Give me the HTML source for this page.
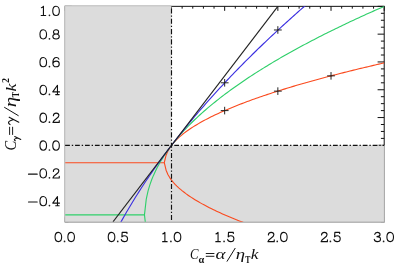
<!DOCTYPE html>
<html><head><meta charset="utf-8"><style>
html,body{margin:0;padding:0;background:#fff;}
svg{display:block}
text{font-family:"Liberation Serif",serif;font-size:14.8px;fill:#111;}
.it{font-style:italic}
</style></head><body>
<svg width="397" height="264" viewBox="0 0 397 264">
<rect width="397" height="264" fill="#fff"/>
<rect x="65.15" y="6.349999999999994" width="319.04999999999995" height="215.45000000000002" fill="none" stroke="#111" stroke-width="1"/>
<path d="M65.15 6.35 v4.5 M65.15 221.80 v-4.5 M75.79 6.35 v2.3 M75.79 221.80 v-2.3 M86.42 6.35 v2.3 M86.42 221.80 v-2.3 M97.06 6.35 v2.3 M97.06 221.80 v-2.3 M107.69 6.35 v2.3 M107.69 221.80 v-2.3 M118.33 6.35 v4.5 M118.33 221.80 v-4.5 M128.96 6.35 v2.3 M128.96 221.80 v-2.3 M139.59 6.35 v2.3 M139.59 221.80 v-2.3 M150.23 6.35 v2.3 M150.23 221.80 v-2.3 M160.87 6.35 v2.3 M160.87 221.80 v-2.3 M171.50 6.35 v4.5 M171.50 221.80 v-4.5 M182.13 6.35 v2.3 M182.13 221.80 v-2.3 M192.77 6.35 v2.3 M192.77 221.80 v-2.3 M203.41 6.35 v2.3 M203.41 221.80 v-2.3 M214.04 6.35 v2.3 M214.04 221.80 v-2.3 M224.67 6.35 v4.5 M224.67 221.80 v-4.5 M235.31 6.35 v2.3 M235.31 221.80 v-2.3 M245.94 6.35 v2.3 M245.94 221.80 v-2.3 M256.58 6.35 v2.3 M256.58 221.80 v-2.3 M267.21 6.35 v2.3 M267.21 221.80 v-2.3 M277.85 6.35 v4.5 M277.85 221.80 v-4.5 M288.49 6.35 v2.3 M288.49 221.80 v-2.3 M299.12 6.35 v2.3 M299.12 221.80 v-2.3 M309.75 6.35 v2.3 M309.75 221.80 v-2.3 M320.39 6.35 v2.3 M320.39 221.80 v-2.3 M331.02 6.35 v4.5 M331.02 221.80 v-4.5 M341.66 6.35 v2.3 M341.66 221.80 v-2.3 M352.29 6.35 v2.3 M352.29 221.80 v-2.3 M362.93 6.35 v2.3 M362.93 221.80 v-2.3 M373.56 6.35 v2.3 M373.56 221.80 v-2.3 M384.20 6.35 v4.5 M384.20 221.80 v-4.5 M65.15 221.80 h3.3 M384.20 221.80 h-3.3 M65.15 214.85 h3.3 M384.20 214.85 h-3.3 M65.15 207.90 h3.3 M384.20 207.90 h-3.3 M65.15 200.95 h6.6 M384.20 200.95 h-6.6 M65.15 194.00 h3.3 M384.20 194.00 h-3.3 M65.15 187.05 h3.3 M384.20 187.05 h-3.3 M65.15 180.10 h3.3 M384.20 180.10 h-3.3 M65.15 173.15 h6.6 M384.20 173.15 h-6.6 M65.15 166.20 h3.3 M384.20 166.20 h-3.3 M65.15 159.25 h3.3 M384.20 159.25 h-3.3 M65.15 152.30 h3.3 M384.20 152.30 h-3.3 M65.15 145.35 h6.6 M384.20 145.35 h-6.6 M65.15 138.40 h3.3 M384.20 138.40 h-3.3 M65.15 131.45 h3.3 M384.20 131.45 h-3.3 M65.15 124.50 h3.3 M384.20 124.50 h-3.3 M65.15 117.55 h6.6 M384.20 117.55 h-6.6 M65.15 110.60 h3.3 M384.20 110.60 h-3.3 M65.15 103.65 h3.3 M384.20 103.65 h-3.3 M65.15 96.70 h3.3 M384.20 96.70 h-3.3 M65.15 89.75 h6.6 M384.20 89.75 h-6.6 M65.15 82.80 h3.3 M384.20 82.80 h-3.3 M65.15 75.85 h3.3 M384.20 75.85 h-3.3 M65.15 68.90 h3.3 M384.20 68.90 h-3.3 M65.15 61.95 h6.6 M384.20 61.95 h-6.6 M65.15 55.00 h3.3 M384.20 55.00 h-3.3 M65.15 48.05 h3.3 M384.20 48.05 h-3.3 M65.15 41.10 h3.3 M384.20 41.10 h-3.3 M65.15 34.15 h6.6 M384.20 34.15 h-6.6 M65.15 27.20 h3.3 M384.20 27.20 h-3.3 M65.15 20.25 h3.3 M384.20 20.25 h-3.3 M65.15 13.30 h3.3 M384.20 13.30 h-3.3 M65.15 6.35 h6.6 M384.20 6.35 h-6.6" stroke="#111" stroke-width="1" fill="none"/>
<path d="M64.45 5.449999999999994 H171.5 V145.35 H384.79999999999995 V222.4 H64.45 Z" fill="#dcdcdc"/>
<path d="M171.5 5.849999999999994 H64.85000000000001 V222.10000000000002" fill="none" stroke="#bdbdbd" stroke-width="0.8"/>
<path d="M64.85000000000001 222.10000000000002 H384.3999999999999 V145.35" fill="none" stroke="#a6a6a6" stroke-width="0.9"/>
<clipPath id="cp"><rect x="65.15" y="6.349999999999994" width="319.04999999999995" height="215.45000000000002"/></clipPath>
<g fill="none" stroke-width="1.12" stroke-linejoin="round" clip-path="url(#cp)">
<path d="M164.29 162.72 L166.09 170.23 L167.89 174.48 L169.70 177.56 L171.50 180.10 L173.30 182.31 L175.11 184.30 L176.91 186.12 L178.71 187.81 L180.51 189.39 L182.32 190.89 L184.12 192.30 L185.92 193.66 L187.72 194.95 L189.53 196.20 L191.33 197.40 L193.13 198.56 L194.93 199.69 L196.74 200.78 L198.54 201.84 L200.34 202.87 L202.14 203.88 L203.95 204.86 L205.75 205.82 L207.55 206.76 L209.35 207.68 L211.16 208.58 L212.96 209.47 L214.76 210.34 L216.56 211.19 L218.37 212.02 L220.17 212.85 L221.97 213.66 L223.77 214.46 L225.58 215.24 L227.38 216.01 L229.18 216.78 L230.98 217.53 L232.79 218.27 L234.59 219.00 L236.39 219.73 L238.19 220.44 L240.00 221.15 L241.80 221.84 L243.60 222.53 L245.40 223.21 L247.21 223.88 L249.01 224.55 L250.81 225.21 L252.61 225.86 L254.42 226.50 L256.22 227.14 L258.02 227.78 L259.82 228.40 L261.63 229.02 L263.43 229.64 L265.23 230.25 L267.03 230.85 L268.84 231.45 L270.64 232.04 L272.44 232.63 L274.24 233.21 L276.05 233.79 L277.85 234.36 L279.65 234.93 L281.46 235.50 L283.26 236.06 L285.06 236.61 L286.86 237.17 L288.67 237.71 L290.47 238.26 L292.27 238.80 L294.07 239.33 L295.88 239.87 L297.68 240.40 L299.48 240.92 L301.28 241.44 L303.09 241.96 L304.89 242.48 L306.69 242.99 L308.49 243.50 L310.30 244.00 L312.10 244.50 L313.90 245.00 L315.70 245.50 L317.51 245.99 L319.31 246.48 L321.11 246.97 L322.91 247.45 L324.72 247.93 L326.52 248.41 L328.32 248.89 L330.12 249.36 L331.93 249.84 L333.73 250.30 L335.53 250.77 L337.33 251.23 L339.14 251.70 L340.94 252.15 L342.74 252.61 L344.54 253.06 L346.35 253.52 L348.15 253.97 L349.95 254.41 L351.75 254.86 L353.56 255.30 L355.36 255.74 L357.16 256.18 L358.96 256.62 L360.77 257.05 L362.57 257.49 L364.37 257.92 L366.17 258.35 L367.98 258.77 L369.78 259.20 L371.58 259.62 L373.38 260.04 L375.19 260.46 L376.99 260.88 L378.79 261.30 L380.59 261.71 L382.40 262.13 L384.20 262.54" stroke="#fa4a1e" />
<path d="M65.15 162.72 L66.95 162.72 L68.76 162.72 L70.56 162.72 L72.36 162.72 L74.16 162.72 L75.97 162.72 L77.77 162.72 L79.57 162.72 L81.37 162.72 L83.18 162.72 L84.98 162.72 L86.78 162.72 L88.58 162.72 L90.39 162.72 L92.19 162.72 L93.99 162.72 L95.79 162.72 L97.60 162.72 L99.40 162.72 L101.20 162.72 L103.00 162.72 L104.81 162.72 L106.61 162.72 L108.41 162.72 L110.21 162.72 L112.02 162.72 L113.82 162.72 L115.62 162.72 L117.42 162.72 L119.23 162.72 L121.03 162.72 L122.83 162.72 L124.63 162.72 L126.44 162.72 L128.24 162.72 L130.04 162.72 L131.84 162.72 L133.65 162.72 L135.45 162.72 L137.25 162.72 L139.05 162.72 L140.86 162.72 L142.66 162.72 L144.46 162.72 L146.26 162.72 L148.07 162.72 L149.87 162.72 L151.67 162.72 L153.47 162.72 L155.28 162.72 L157.08 162.72 L158.88 162.72 L160.68 162.72 L162.49 162.72 L164.29 162.72 L166.09 155.22 L167.89 150.97 L169.70 147.89 L171.50 145.35 L173.30 143.14 L175.11 141.15 L176.91 139.33 L178.71 137.64 L180.51 136.06 L182.32 134.56 L184.12 133.15 L185.92 131.79 L187.72 130.50 L189.53 129.25 L191.33 128.05 L193.13 126.89 L194.93 125.76 L196.74 124.67 L198.54 123.61 L200.34 122.58 L202.14 121.57 L203.95 120.59 L205.75 119.63 L207.55 118.69 L209.35 117.77 L211.16 116.87 L212.96 115.98 L214.76 115.11 L216.56 114.26 L218.37 113.43 L220.17 112.60 L221.97 111.79 L223.77 110.99 L225.58 110.21 L227.38 109.44 L229.18 108.67 L230.98 107.92 L232.79 107.18 L234.59 106.45 L236.39 105.72 L238.19 105.01 L240.00 104.30 L241.80 103.61 L243.60 102.92 L245.40 102.24 L247.21 101.57 L249.01 100.90 L250.81 100.24 L252.61 99.59 L254.42 98.95 L256.22 98.31 L258.02 97.67 L259.82 97.05 L261.63 96.43 L263.43 95.81 L265.23 95.20 L267.03 94.60 L268.84 94.00 L270.64 93.41 L272.44 92.82 L274.24 92.24 L276.05 91.66 L277.85 91.09 L279.65 90.52 L281.46 89.95 L283.26 89.39 L285.06 88.84 L286.86 88.28 L288.67 87.74 L290.47 87.19 L292.27 86.65 L294.07 86.12 L295.88 85.58 L297.68 85.05 L299.48 84.53 L301.28 84.01 L303.09 83.49 L304.89 82.97 L306.69 82.46 L308.49 81.95 L310.30 81.45 L312.10 80.95 L313.90 80.45 L315.70 79.95 L317.51 79.46 L319.31 78.97 L321.11 78.48 L322.91 78.00 L324.72 77.52 L326.52 77.04 L328.32 76.56 L330.12 76.09 L331.93 75.61 L333.73 75.15 L335.53 74.68 L337.33 74.22 L339.14 73.75 L340.94 73.30 L342.74 72.84 L344.54 72.39 L346.35 71.93 L348.15 71.48 L349.95 71.04 L351.75 70.59 L353.56 70.15 L355.36 69.71 L357.16 69.27 L358.96 68.83 L360.77 68.40 L362.57 67.96 L364.37 67.53 L366.17 67.10 L367.98 66.68 L369.78 66.25 L371.58 65.83 L373.38 65.41 L375.19 64.99 L376.99 64.57 L378.79 64.15 L380.59 63.74 L382.40 63.32 L384.20 62.91" stroke="#fa4a1e" />
<path d="M144.46 214.85 L146.26 230.52 L148.07 238.79 L149.87 244.86 L151.67 249.89 L153.47 254.29 L155.28 258.24 L157.08 261.87 L158.88 265.23 L160.68 268.38 L162.49 271.36 L164.29 274.18 L166.09 276.88 L167.89 279.47 L169.70 281.95 L171.50 284.35 L173.30 286.67 L175.11 288.91 L176.91 291.09 L178.71 293.21 L180.51 295.27 L182.32 297.28 L184.12 299.25 L185.92 301.16 L187.72 303.04 L189.53 304.88 L191.33 306.68 L193.13 308.44 L194.93 310.18 L196.74 311.88 L198.54 313.55" stroke="#2fcf6a" />
<path d="M65.15 214.85 L66.95 214.85 L68.76 214.85 L70.56 214.85 L72.36 214.85 L74.16 214.85 L75.97 214.85 L77.77 214.85 L79.57 214.85 L81.37 214.85 L83.18 214.85 L84.98 214.85 L86.78 214.85 L88.58 214.85 L90.39 214.85 L92.19 214.85 L93.99 214.85 L95.79 214.85 L97.60 214.85 L99.40 214.85 L101.20 214.85 L103.00 214.85 L104.81 214.85 L106.61 214.85 L108.41 214.85 L110.21 214.85 L112.02 214.85 L113.82 214.85 L115.62 214.85 L117.42 214.85 L119.23 214.85 L121.03 214.85 L122.83 214.85 L124.63 214.85 L126.44 214.85 L128.24 214.85 L130.04 214.85 L131.84 214.85 L133.65 214.85 L135.45 214.85 L137.25 214.85 L139.05 214.85 L140.86 214.85 L142.66 214.85 L144.46 214.85 L146.26 199.18 L148.07 190.91 L149.87 184.84 L151.67 179.81 L153.47 175.41 L155.28 171.46 L157.08 167.83 L158.88 164.47 L160.68 161.32 L162.49 158.34 L164.29 155.52 L166.09 152.82 L167.89 150.23 L169.70 147.75 L171.50 145.35 L173.30 143.03 L175.11 140.79 L176.91 138.61 L178.71 136.49 L180.51 134.43 L182.32 132.42 L184.12 130.45 L185.92 128.54 L187.72 126.66 L189.53 124.82 L191.33 123.02 L193.13 121.26 L194.93 119.52 L196.74 117.82 L198.54 116.15 L200.34 114.50 L202.14 112.88 L203.95 111.29 L205.75 109.72 L207.55 108.17 L209.35 106.65 L211.16 105.15 L212.96 103.66 L214.76 102.20 L216.56 100.76 L218.37 99.33 L220.17 97.92 L221.97 96.53 L223.77 95.15 L225.58 93.79 L227.38 92.45 L229.18 91.12 L230.98 89.80 L232.79 88.50 L234.59 87.21 L236.39 85.93 L238.19 84.67 L240.00 83.42 L241.80 82.18 L243.60 80.95 L245.40 79.73 L247.21 78.53 L249.01 77.33 L250.81 76.14 L252.61 74.97 L254.42 73.80 L256.22 72.65 L258.02 71.50 L259.82 70.36 L261.63 69.23 L263.43 68.11 L265.23 67.00 L267.03 65.90 L268.84 64.80 L270.64 63.72 L272.44 62.64 L274.24 61.56 L276.05 60.50 L277.85 59.44 L279.65 58.39 L281.46 57.35 L283.26 56.31 L285.06 55.28 L286.86 54.26 L288.67 53.25 L290.47 52.24 L292.27 51.23 L294.07 50.23 L295.88 49.24 L297.68 48.26 L299.48 47.28 L301.28 46.30 L303.09 45.33 L304.89 44.37 L306.69 43.41 L308.49 42.46 L310.30 41.51 L312.10 40.57 L313.90 39.63 L315.70 38.70 L317.51 37.77 L319.31 36.85 L321.11 35.93 L322.91 35.02 L324.72 34.11 L326.52 33.21 L328.32 32.31 L330.12 31.42 L331.93 30.53 L333.73 29.64 L335.53 28.76 L337.33 27.88 L339.14 27.01 L340.94 26.14 L342.74 25.27 L344.54 24.41 L346.35 23.55 L348.15 22.70 L349.95 21.85 L351.75 21.00 L353.56 20.16 L355.36 19.32 L357.16 18.48 L358.96 17.65 L360.77 16.82 L362.57 16.00 L364.37 15.18 L366.17 14.36 L367.98 13.54 L369.78 12.73 L371.58 11.92 L373.38 11.12 L375.19 10.31 L376.99 9.52 L378.79 8.72 L380.59 7.93 L382.40 7.14 L384.20 6.35" stroke="#2fcf6a" />
<path d="M65.15 423.35" stroke="#3a2fe0" />
<path d="M65.15 423.35 L66.95 387.16 L68.76 372.17 L70.56 360.66 L72.36 350.96 L74.16 342.42 L75.97 334.70 L77.77 327.59 L79.57 320.98 L81.37 314.77 L83.18 308.90 L84.98 303.31 L86.78 297.98 L88.58 292.86 L90.39 287.93 L92.19 283.18 L93.99 278.58 L95.79 274.12 L97.60 269.80 L99.40 265.59 L101.20 261.49 L103.00 257.50 L104.81 253.59 L106.61 249.78 L108.41 246.04 L110.21 242.39 L112.02 238.80 L113.82 235.29 L115.62 231.84 L117.42 228.45 L119.23 225.12 L121.03 221.84 L122.83 218.61 L124.63 215.44 L126.44 212.31 L128.24 209.23 L130.04 206.19 L131.84 203.20 L133.65 200.24 L135.45 197.33 L137.25 194.45 L139.05 191.60 L140.86 188.80 L142.66 186.02 L144.46 183.28 L146.26 180.56 L148.07 177.88 L149.87 175.23 L151.67 172.60 L153.47 170.00 L155.28 167.43 L157.08 164.88 L158.88 162.36 L160.68 159.86 L162.49 157.39 L164.29 154.94 L166.09 152.51 L167.89 150.10 L169.70 147.72 L171.50 145.35 L173.30 143.00 L175.11 140.68 L176.91 138.37 L178.71 136.08 L180.51 133.81 L182.32 131.56 L184.12 129.32 L185.92 127.10 L187.72 124.90 L189.53 122.71 L191.33 120.54 L193.13 118.39 L194.93 116.25 L196.74 114.12 L198.54 112.01 L200.34 109.91 L202.14 107.83 L203.95 105.76 L205.75 103.71 L207.55 101.66 L209.35 99.63 L211.16 97.62 L212.96 95.61 L214.76 93.62 L216.56 91.64 L218.37 89.67 L220.17 87.71 L221.97 85.77 L223.77 83.83 L225.58 81.91 L227.38 80.00 L229.18 78.10 L230.98 76.20 L232.79 74.32 L234.59 72.45 L236.39 70.59 L238.19 68.74 L240.00 66.90 L241.80 65.06 L243.60 63.24 L245.40 61.42 L247.21 59.62 L249.01 57.82 L250.81 56.04 L252.61 54.26 L254.42 52.49 L256.22 50.73 L258.02 48.97 L259.82 47.23 L261.63 45.49 L263.43 43.76 L265.23 42.04 L267.03 40.32 L268.84 38.62 L270.64 36.92 L272.44 35.23 L274.24 33.54 L276.05 31.87 L277.85 30.20 L279.65 28.54 L281.46 26.88 L283.26 25.23 L285.06 23.59 L286.86 21.96 L288.67 20.33 L290.47 18.71 L292.27 17.09 L294.07 15.48 L295.88 13.88 L297.68 12.28 L299.48 10.69 L301.28 9.11 L303.09 7.53 L304.89 5.96 L306.69 4.39 L308.49 2.83 L310.30 1.28 L312.10 -0.27 L313.90 -1.82 L315.70 -3.35 L317.51 -4.89 L319.31 -6.41 L321.11 -7.93 L322.91 -9.45 L324.72 -10.96 L326.52 -12.47 L328.32 -13.97 L330.12 -15.46 L331.93 -16.95 L333.73 -18.44 L335.53 -19.92 L337.33 -21.39 L339.14 -22.86 L340.94 -24.33 L342.74 -25.79 L344.54 -27.24 L346.35 -28.69 L348.15 -30.14 L349.95 -31.58 L351.75 -33.02 L353.56 -34.45 L355.36 -35.88 L357.16 -37.31 L358.96 -38.73 L360.77 -40.14 L362.57 -41.55 L364.37 -42.96 L366.17 -44.36 L367.98 -45.76 L369.78 -47.15 L371.58 -48.54 L373.38 -49.93 L375.19 -51.31 L376.99 -52.69 L378.79 -54.06 L380.59 -55.43 L382.40 -56.80 L384.20 -58.16" stroke="#3a2fe0" />
<path d="M113.01 221.80 L277.85 6.35" stroke="#222" />
</g>
<g fill="none" stroke="#1a1a1a" stroke-width="0.95">
<path d="M220.77 82.80 h7.8 M224.67 79.00 v7.6" />
<path d="M273.95 29.98 h7.8 M277.85 26.18 v7.6" />
<path d="M220.77 110.60 h7.8 M224.67 106.80 v7.6" />
<path d="M273.95 91.14 h7.8 M277.85 87.34 v7.6" />
<path d="M327.12 75.85 h7.8 M331.02 72.05 v7.6" />
</g>
<g fill="none" stroke="#111" stroke-width="1.15" stroke-dasharray="4.75 1.9 1.37 1.9">
<path d="M171.5 6.349999999999994 V221.8" stroke-dasharray="5.1 2.0 1.25 1.98" stroke-dashoffset="8.3"/>
<path d="M65.15 145.35 H384.19999999999993"/>
</g>
<g fill="none" stroke="#111" stroke-width="1.10" stroke-linecap="round" stroke-linejoin="round"><path transform="translate(39.95,6.25) scale(0.9429,0.9300)" d="M1.5 1.6 C2.5 1.4 3.2 0.8 3.7 0 L3.7 10 M1.3 10 L6.1 10" vector-effect="non-scaling-stroke"/><circle cx="49.45" cy="15.35" r="0.85" fill="#222" stroke="none"/><path transform="translate(52.75,6.25) scale(0.9429,0.9300)" d="M3.5 0 C1.4 0 0 2 0 5 C0 8 1.4 10 3.5 10 C5.6 10 7 8 7 5 C7 2 5.6 0 3.5 0 Z" vector-effect="non-scaling-stroke"/>
<path transform="translate(39.95,29.70) scale(0.9429,0.9300)" d="M3.5 0 C1.4 0 0 2 0 5 C0 8 1.4 10 3.5 10 C5.6 10 7 8 7 5 C7 2 5.6 0 3.5 0 Z" vector-effect="non-scaling-stroke"/><circle cx="49.45" cy="38.80" r="0.85" fill="#222" stroke="none"/><path transform="translate(52.75,29.70) scale(0.9429,0.9300)" d="M3.5 0 C1.9 0 0.8 1 0.8 2.4 C0.8 3.8 1.9 4.7 3.5 4.7 C5.1 4.7 6.2 3.8 6.2 2.4 C6.2 1 5.1 0 3.5 0 Z M3.5 4.7 C1.5 4.7 0.1 5.8 0.1 7.4 C0.1 9 1.5 10 3.5 10 C5.5 10 6.9 9 6.9 7.4 C6.9 5.8 5.5 4.7 3.5 4.7 Z" vector-effect="non-scaling-stroke"/>
<path transform="translate(39.95,57.50) scale(0.9429,0.9300)" d="M3.5 0 C1.4 0 0 2 0 5 C0 8 1.4 10 3.5 10 C5.6 10 7 8 7 5 C7 2 5.6 0 3.5 0 Z" vector-effect="non-scaling-stroke"/><circle cx="49.45" cy="66.60" r="0.85" fill="#222" stroke="none"/><path transform="translate(52.75,57.50) scale(0.9429,0.9300)" d="M6.5 1.8 C6.1 0.6 5.2 0 4 0 C1.5 0 0.1 2.3 0.1 5.8 C0.1 8.6 1.5 10 3.6 10 C5.5 10 6.9 8.7 6.9 6.9 C6.9 5.1 5.5 3.9 3.7 3.9 C2 3.9 0.5 5 0.1 6.6" vector-effect="non-scaling-stroke"/>
<path transform="translate(39.95,85.30) scale(0.9429,0.9300)" d="M3.5 0 C1.4 0 0 2 0 5 C0 8 1.4 10 3.5 10 C5.6 10 7 8 7 5 C7 2 5.6 0 3.5 0 Z" vector-effect="non-scaling-stroke"/><circle cx="49.45" cy="94.40" r="0.85" fill="#222" stroke="none"/><path transform="translate(52.75,85.30) scale(0.9429,0.9300)" d="M5 10 L5 0 L0 7.1 L7.2 7.1 M3.1 10 L6.8 10" vector-effect="non-scaling-stroke"/>
<path transform="translate(39.95,113.10) scale(0.9429,0.9300)" d="M3.5 0 C1.4 0 0 2 0 5 C0 8 1.4 10 3.5 10 C5.6 10 7 8 7 5 C7 2 5.6 0 3.5 0 Z" vector-effect="non-scaling-stroke"/><circle cx="49.45" cy="122.20" r="0.85" fill="#222" stroke="none"/><path transform="translate(52.75,113.10) scale(0.9429,0.9300)" d="M0.7 2.9 L0.7 2.4 C0.9 0.9 2 0 3.6 0 C5.3 0 6.5 1 6.5 2.6 C6.5 4.1 5.2 5.1 3.4 6.3 C1.8 7.4 0.6 8.6 0.2 10 L6.9 10 L6.9 8.1" vector-effect="non-scaling-stroke"/>
<path transform="translate(39.95,140.90) scale(0.9429,0.9300)" d="M3.5 0 C1.4 0 0 2 0 5 C0 8 1.4 10 3.5 10 C5.6 10 7 8 7 5 C7 2 5.6 0 3.5 0 Z" vector-effect="non-scaling-stroke"/><circle cx="49.45" cy="150.00" r="0.85" fill="#222" stroke="none"/><path transform="translate(52.75,140.90) scale(0.9429,0.9300)" d="M3.5 0 C1.4 0 0 2 0 5 C0 8 1.4 10 3.5 10 C5.6 10 7 8 7 5 C7 2 5.6 0 3.5 0 Z" vector-effect="non-scaling-stroke"/>
<path d="M28.50 174.15 h8.7"/><path transform="translate(39.95,168.70) scale(0.9429,0.9300)" d="M3.5 0 C1.4 0 0 2 0 5 C0 8 1.4 10 3.5 10 C5.6 10 7 8 7 5 C7 2 5.6 0 3.5 0 Z" vector-effect="non-scaling-stroke"/><circle cx="49.45" cy="177.80" r="0.85" fill="#222" stroke="none"/><path transform="translate(52.75,168.70) scale(0.9429,0.9300)" d="M0.7 2.9 L0.7 2.4 C0.9 0.9 2 0 3.6 0 C5.3 0 6.5 1 6.5 2.6 C6.5 4.1 5.2 5.1 3.4 6.3 C1.8 7.4 0.6 8.6 0.2 10 L6.9 10 L6.9 8.1" vector-effect="non-scaling-stroke"/>
<path d="M28.50 201.95 h8.7"/><path transform="translate(39.95,196.50) scale(0.9429,0.9300)" d="M3.5 0 C1.4 0 0 2 0 5 C0 8 1.4 10 3.5 10 C5.6 10 7 8 7 5 C7 2 5.6 0 3.5 0 Z" vector-effect="non-scaling-stroke"/><circle cx="49.45" cy="205.60" r="0.85" fill="#222" stroke="none"/><path transform="translate(52.75,196.50) scale(0.9429,0.9300)" d="M5 10 L5 0 L0 7.1 L7.2 7.1 M3.1 10 L6.8 10" vector-effect="non-scaling-stroke"/>
<path transform="translate(55.05,232.35) scale(0.9429,0.9300)" d="M3.5 0 C1.4 0 0 2 0 5 C0 8 1.4 10 3.5 10 C5.6 10 7 8 7 5 C7 2 5.6 0 3.5 0 Z" vector-effect="non-scaling-stroke"/><circle cx="64.55" cy="241.45" r="0.85" fill="#222" stroke="none"/><path transform="translate(67.85,232.35) scale(0.9429,0.9300)" d="M3.5 0 C1.4 0 0 2 0 5 C0 8 1.4 10 3.5 10 C5.6 10 7 8 7 5 C7 2 5.6 0 3.5 0 Z" vector-effect="non-scaling-stroke"/>
<path transform="translate(108.23,232.35) scale(0.9429,0.9300)" d="M3.5 0 C1.4 0 0 2 0 5 C0 8 1.4 10 3.5 10 C5.6 10 7 8 7 5 C7 2 5.6 0 3.5 0 Z" vector-effect="non-scaling-stroke"/><circle cx="117.73" cy="241.45" r="0.85" fill="#222" stroke="none"/><path transform="translate(121.03,232.35) scale(0.9429,0.9300)" d="M6.3 1.2 L6.3 0 L1.2 0 L0.9 4.9 C1.6 4.1 2.6 3.6 3.7 3.6 C5.5 3.6 6.9 4.9 6.9 6.8 C6.9 8.7 5.4 10 3.5 10 C1.7 10 0.5 9.1 0.2 7.6" vector-effect="non-scaling-stroke"/>
<path transform="translate(161.40,232.35) scale(0.9429,0.9300)" d="M1.5 1.6 C2.5 1.4 3.2 0.8 3.7 0 L3.7 10 M1.3 10 L6.1 10" vector-effect="non-scaling-stroke"/><circle cx="170.90" cy="241.45" r="0.85" fill="#222" stroke="none"/><path transform="translate(174.20,232.35) scale(0.9429,0.9300)" d="M3.5 0 C1.4 0 0 2 0 5 C0 8 1.4 10 3.5 10 C5.6 10 7 8 7 5 C7 2 5.6 0 3.5 0 Z" vector-effect="non-scaling-stroke"/>
<path transform="translate(214.57,232.35) scale(0.9429,0.9300)" d="M1.5 1.6 C2.5 1.4 3.2 0.8 3.7 0 L3.7 10 M1.3 10 L6.1 10" vector-effect="non-scaling-stroke"/><circle cx="224.07" cy="241.45" r="0.85" fill="#222" stroke="none"/><path transform="translate(227.38,232.35) scale(0.9429,0.9300)" d="M6.3 1.2 L6.3 0 L1.2 0 L0.9 4.9 C1.6 4.1 2.6 3.6 3.7 3.6 C5.5 3.6 6.9 4.9 6.9 6.8 C6.9 8.7 5.4 10 3.5 10 C1.7 10 0.5 9.1 0.2 7.6" vector-effect="non-scaling-stroke"/>
<path transform="translate(267.75,232.35) scale(0.9429,0.9300)" d="M0.7 2.9 L0.7 2.4 C0.9 0.9 2 0 3.6 0 C5.3 0 6.5 1 6.5 2.6 C6.5 4.1 5.2 5.1 3.4 6.3 C1.8 7.4 0.6 8.6 0.2 10 L6.9 10 L6.9 8.1" vector-effect="non-scaling-stroke"/><circle cx="277.25" cy="241.45" r="0.85" fill="#222" stroke="none"/><path transform="translate(280.55,232.35) scale(0.9429,0.9300)" d="M3.5 0 C1.4 0 0 2 0 5 C0 8 1.4 10 3.5 10 C5.6 10 7 8 7 5 C7 2 5.6 0 3.5 0 Z" vector-effect="non-scaling-stroke"/>
<path transform="translate(320.92,232.35) scale(0.9429,0.9300)" d="M0.7 2.9 L0.7 2.4 C0.9 0.9 2 0 3.6 0 C5.3 0 6.5 1 6.5 2.6 C6.5 4.1 5.2 5.1 3.4 6.3 C1.8 7.4 0.6 8.6 0.2 10 L6.9 10 L6.9 8.1" vector-effect="non-scaling-stroke"/><circle cx="330.42" cy="241.45" r="0.85" fill="#222" stroke="none"/><path transform="translate(333.72,232.35) scale(0.9429,0.9300)" d="M6.3 1.2 L6.3 0 L1.2 0 L0.9 4.9 C1.6 4.1 2.6 3.6 3.7 3.6 C5.5 3.6 6.9 4.9 6.9 6.8 C6.9 8.7 5.4 10 3.5 10 C1.7 10 0.5 9.1 0.2 7.6" vector-effect="non-scaling-stroke"/>
<path transform="translate(374.10,232.35) scale(0.9429,0.9300)" d="M0.7 2.2 C0.9 0.8 2 0 3.4 0 C5.1 0 6.3 0.9 6.3 2.4 C6.3 3.8 5.1 4.6 3.0 4.6 C5.3 4.6 6.8 5.6 6.8 7.3 C6.8 9 5.3 10 3.4 10 C1.6 10 0.4 9.1 0.2 7.6" vector-effect="non-scaling-stroke"/><circle cx="383.60" cy="241.45" r="0.85" fill="#222" stroke="none"/><path transform="translate(386.90,232.35) scale(0.9429,0.9300)" d="M3.5 0 C1.4 0 0 2 0 5 C0 8 1.4 10 3.5 10 C5.6 10 7 8 7 5 C7 2 5.6 0 3.5 0 Z" vector-effect="non-scaling-stroke"/></g>
<g style="opacity:0.999"><text transform="translate(189.90,258.75) scale(0.862,1)" style="font-size:14.78px;stroke:#fff;stroke-width:0.00px;font-style:italic;">C</text>
<text transform="translate(198.54,262.50) scale(1.074,1)" style="font-size:9.58px;stroke:#fff;stroke-width:0.00px;font-weight:bold;">α</text>
<text transform="translate(215.43,258.85) scale(1.268,1)" style="font-size:15.00px;stroke:#fff;stroke-width:0.00px;font-style:italic;">α</text>
<text transform="translate(235.74,258.96) scale(1.218,1)" style="font-size:15.44px;stroke:#fff;stroke-width:0.00px;font-style:italic;">η</text>
<text transform="translate(245.28,262.50) scale(0.809,1)" style="font-size:9.54px;stroke:#fff;stroke-width:0.00px;font-weight:bold;">T</text>
<text transform="translate(250.68,258.90) scale(1.203,1)" style="font-size:14.49px;stroke:#fff;stroke-width:0.00px;font-style:italic;">k</text>
<text transform="rotate(-90) translate(-150.60,15.64) scale(0.901,1)" style="font-size:16.12px;stroke:#fff;stroke-width:0.00px;font-style:italic;">C</text>
<text transform="rotate(-90) translate(-107.24,15.53) scale(1.322,1)" style="font-size:16.03px;stroke:#fff;stroke-width:0.00px;font-style:italic;">η</text>
<text transform="rotate(-90) translate(-97.22,18.90) scale(0.749,1)" style="font-size:10.31px;stroke:#fff;stroke-width:0.00px;font-weight:bold;">T</text>
<text transform="rotate(-90) translate(-91.44,15.50) scale(1.166,1)" style="font-size:15.36px;stroke:#fff;stroke-width:0.00px;font-style:italic;">k</text>
<text transform="rotate(-90) translate(-82.90,9.00) scale(0.941,1)" style="font-size:10.76px;stroke:#fff;stroke-width:0.00px;font-weight:bold;">2</text>
<path transform="translate(8.20,124.60) rotate(-90) scale(0.9870,0.9815)" d="M0 1.9 C0.5 0.9 1.2 0.3 2.1 0.3 C3.6 0.3 4.3 3.5 5.2 5.6 M7.5 1.0 L2.4 10.8" vector-effect="non-scaling-stroke" fill="none" stroke="#111" stroke-width="1.10" stroke-linecap="round"/>
<path transform="translate(14.10,140.70) rotate(-90) scale(0.5455,0.6204)" d="M0 1.9 C0.5 0.9 1.2 0.3 2.1 0.3 C3.6 0.3 4.3 3.5 5.2 5.6 M7.5 1.0 L2.4 10.8" vector-effect="non-scaling-stroke" fill="none" stroke="#111" stroke-width="1.10" stroke-linecap="round"/>
<path d="M4.2 107.2 L18.6 115.8" fill="none" stroke="#111" stroke-width="1.00"/>
<path d="M9.6 126.8 V134.9 M12.6 126.8 V134.9" fill="none" stroke="#111" stroke-width="0.95"/>
<path d="M226.9 261.6 L235.3 248.0" fill="none" stroke="#111" stroke-width="1.00"/>
<path d="M205.8 253.5 H214.4 M205.8 256.3 H214.4" fill="none" stroke="#111" stroke-width="0.95"/></g>
</svg>
</body></html>
